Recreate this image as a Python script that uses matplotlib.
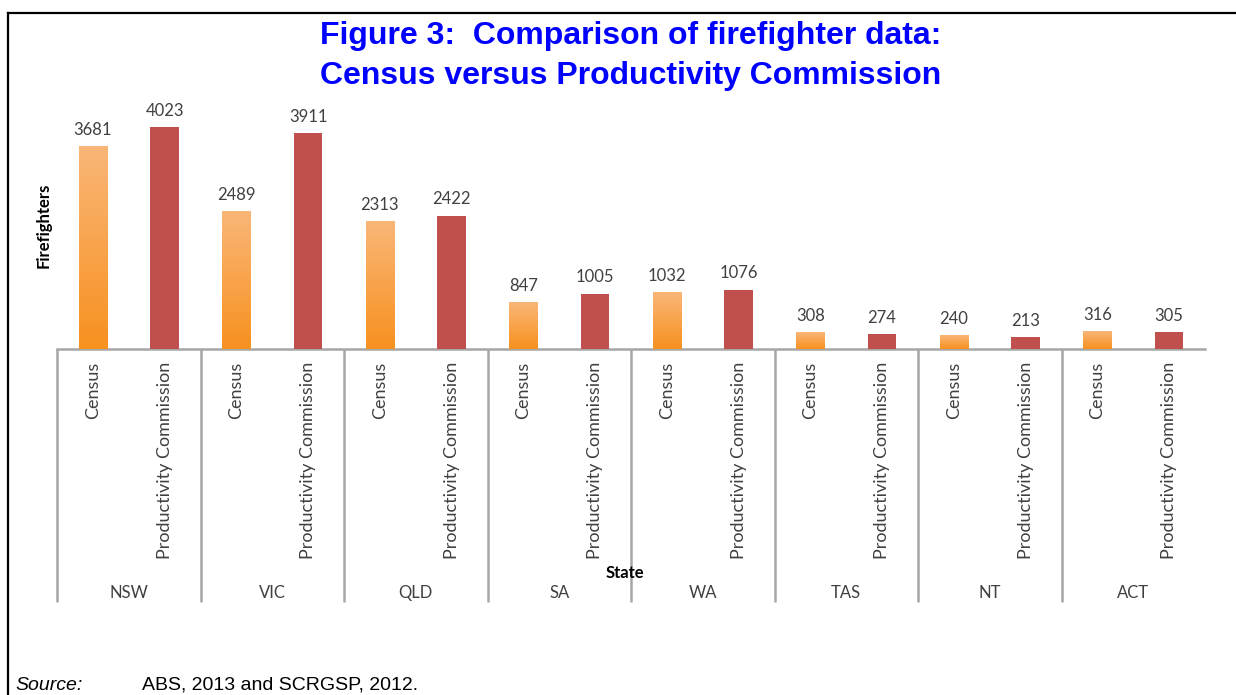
import numpy as np
import matplotlib
matplotlib.use('Agg')
import matplotlib.pyplot as plt
from matplotlib.colors import LinearSegmentedColormap

# Datos
states = ['NSW', 'VIC', 'QLD', 'SA', 'WA', 'TAS', 'NT', 'ACT']
series = ['Census', 'Productivity Commission']
census = [3681, 2489, 2313, 847, 1032, 308, 240, 316]
productivity = [4023, 3911, 2422, 1005, 1076, 274, 213, 305]

W, H = 1236, 695

def px_x(p):
    return p / W

def px_y(p):
    return 1 - p / H

fig = plt.figure(figsize=(W / 100, H / 100), dpi=100)
fig.patch.set_facecolor('white')

# Marco de la figura (arriba e izquierda)
fig.add_artist(plt.Line2D([px_x(8), 1], [px_y(13), px_y(13)], color='black', lw=1.6))
fig.add_artist(plt.Line2D([px_x(8), px_x(8)], [px_y(13), 0], color='black', lw=1.6))

# Titulo
fig.text(px_x(631), px_y(36), 'Figure 3:  Comparison of firefighter data:',
         ha='center', va='center', fontsize=23, fontweight='bold',
         color='#0000FF', family='Liberation Sans')
fig.text(px_x(631), px_y(76), 'Census versus Productivity Commission',
         ha='center', va='center', fontsize=23, fontweight='bold',
         color='#0000FF', family='Liberation Sans')

# Ejes
left, right, base, top = 57, 1205, 349, 101
ax = fig.add_axes([px_x(left), px_y(base), (right - left) / W, (base - top) / H])
ymax = 4500
n = len(states)

x_c = np.arange(n) * 2 + 0.5
x_p = np.arange(n) * 2 + 1.5
bw = 0.4

grad_cmap = LinearSegmentedColormap.from_list('naranja', ['#F79120', '#FAB677'])
bars_c = ax.bar(x_c, census, width=bw, color='#F79646', zorder=2)
for b in bars_c:
    x0 = b.get_x()
    h = b.get_height()
    g = np.linspace(0, 1, 100).reshape(-1, 1)
    ax.imshow(g, extent=[x0, x0 + bw, 0, h], origin='lower', aspect='auto',
              cmap=grad_cmap, zorder=3)
bars_p = ax.bar(x_p, productivity, width=bw, color='#C0504D', zorder=3)

for xs, vals in ((x_c, census), (x_p, productivity)):
    for x, v in zip(xs, vals):
        ax.annotate(str(v), (x, v), xytext=(0, 6), textcoords='offset points',
                    ha='center', va='bottom', fontsize=12, color='#404040',
                    family='Lato')

ax.set_xlim(0, 2 * n)
ax.set_ylim(0, ymax)

ax.set_xticks(np.concatenate([x_c, x_p]))
ax.set_xticklabels([series[0]] * n + [series[1]] * n, rotation=90,
                   fontsize=13, color='#404040', family='Lato')
ax.tick_params(axis='x', length=0, pad=9)
ax.set_yticks([])

for s in ['top', 'right', 'left']:
    ax.spines[s].set_visible(False)
ax.spines['bottom'].set_color('#A6A6A6')
ax.spines['bottom'].set_linewidth(1.8)
ax.patch.set_alpha(0)

# Separadores de grupo
sep_bottom = (base - 602) / (base - top)
ax.vlines(np.arange(n) * 2, sep_bottom, 0, transform=ax.get_xaxis_transform(),
          color='#A6A6A6', lw=1.8, clip_on=False)

# Nombres de estados
state_y = (base - 593) / (base - top)
for i, st in enumerate(states):
    ax.text(2 * i + 1, state_y, st, transform=ax.get_xaxis_transform(),
            ha='center', va='center', fontsize=12, color='#404040', family='Lato')

ax.text(7.92, (base - 573) / (base - top), 'State', transform=ax.get_xaxis_transform(),
        ha='center', va='center', fontsize=12, fontweight='bold', color='black',
        family='Lato')

fig.text(px_x(44), px_y(225), 'Firefighters', rotation=90, ha='center', va='center',
         fontsize=12, fontweight='bold', color='black', family='Lato')

# Fuente
fig.text(px_x(15), px_y(685), 'Source:', ha='left', va='center', fontsize=14,
         style='italic', family='Liberation Sans')
fig.text(px_x(142), px_y(685), 'ABS, 2013 and SCRGSP, 2012.', ha='left', va='center',
         fontsize=14, family='Liberation Sans')

fig.savefig('out.png', dpi=100)
